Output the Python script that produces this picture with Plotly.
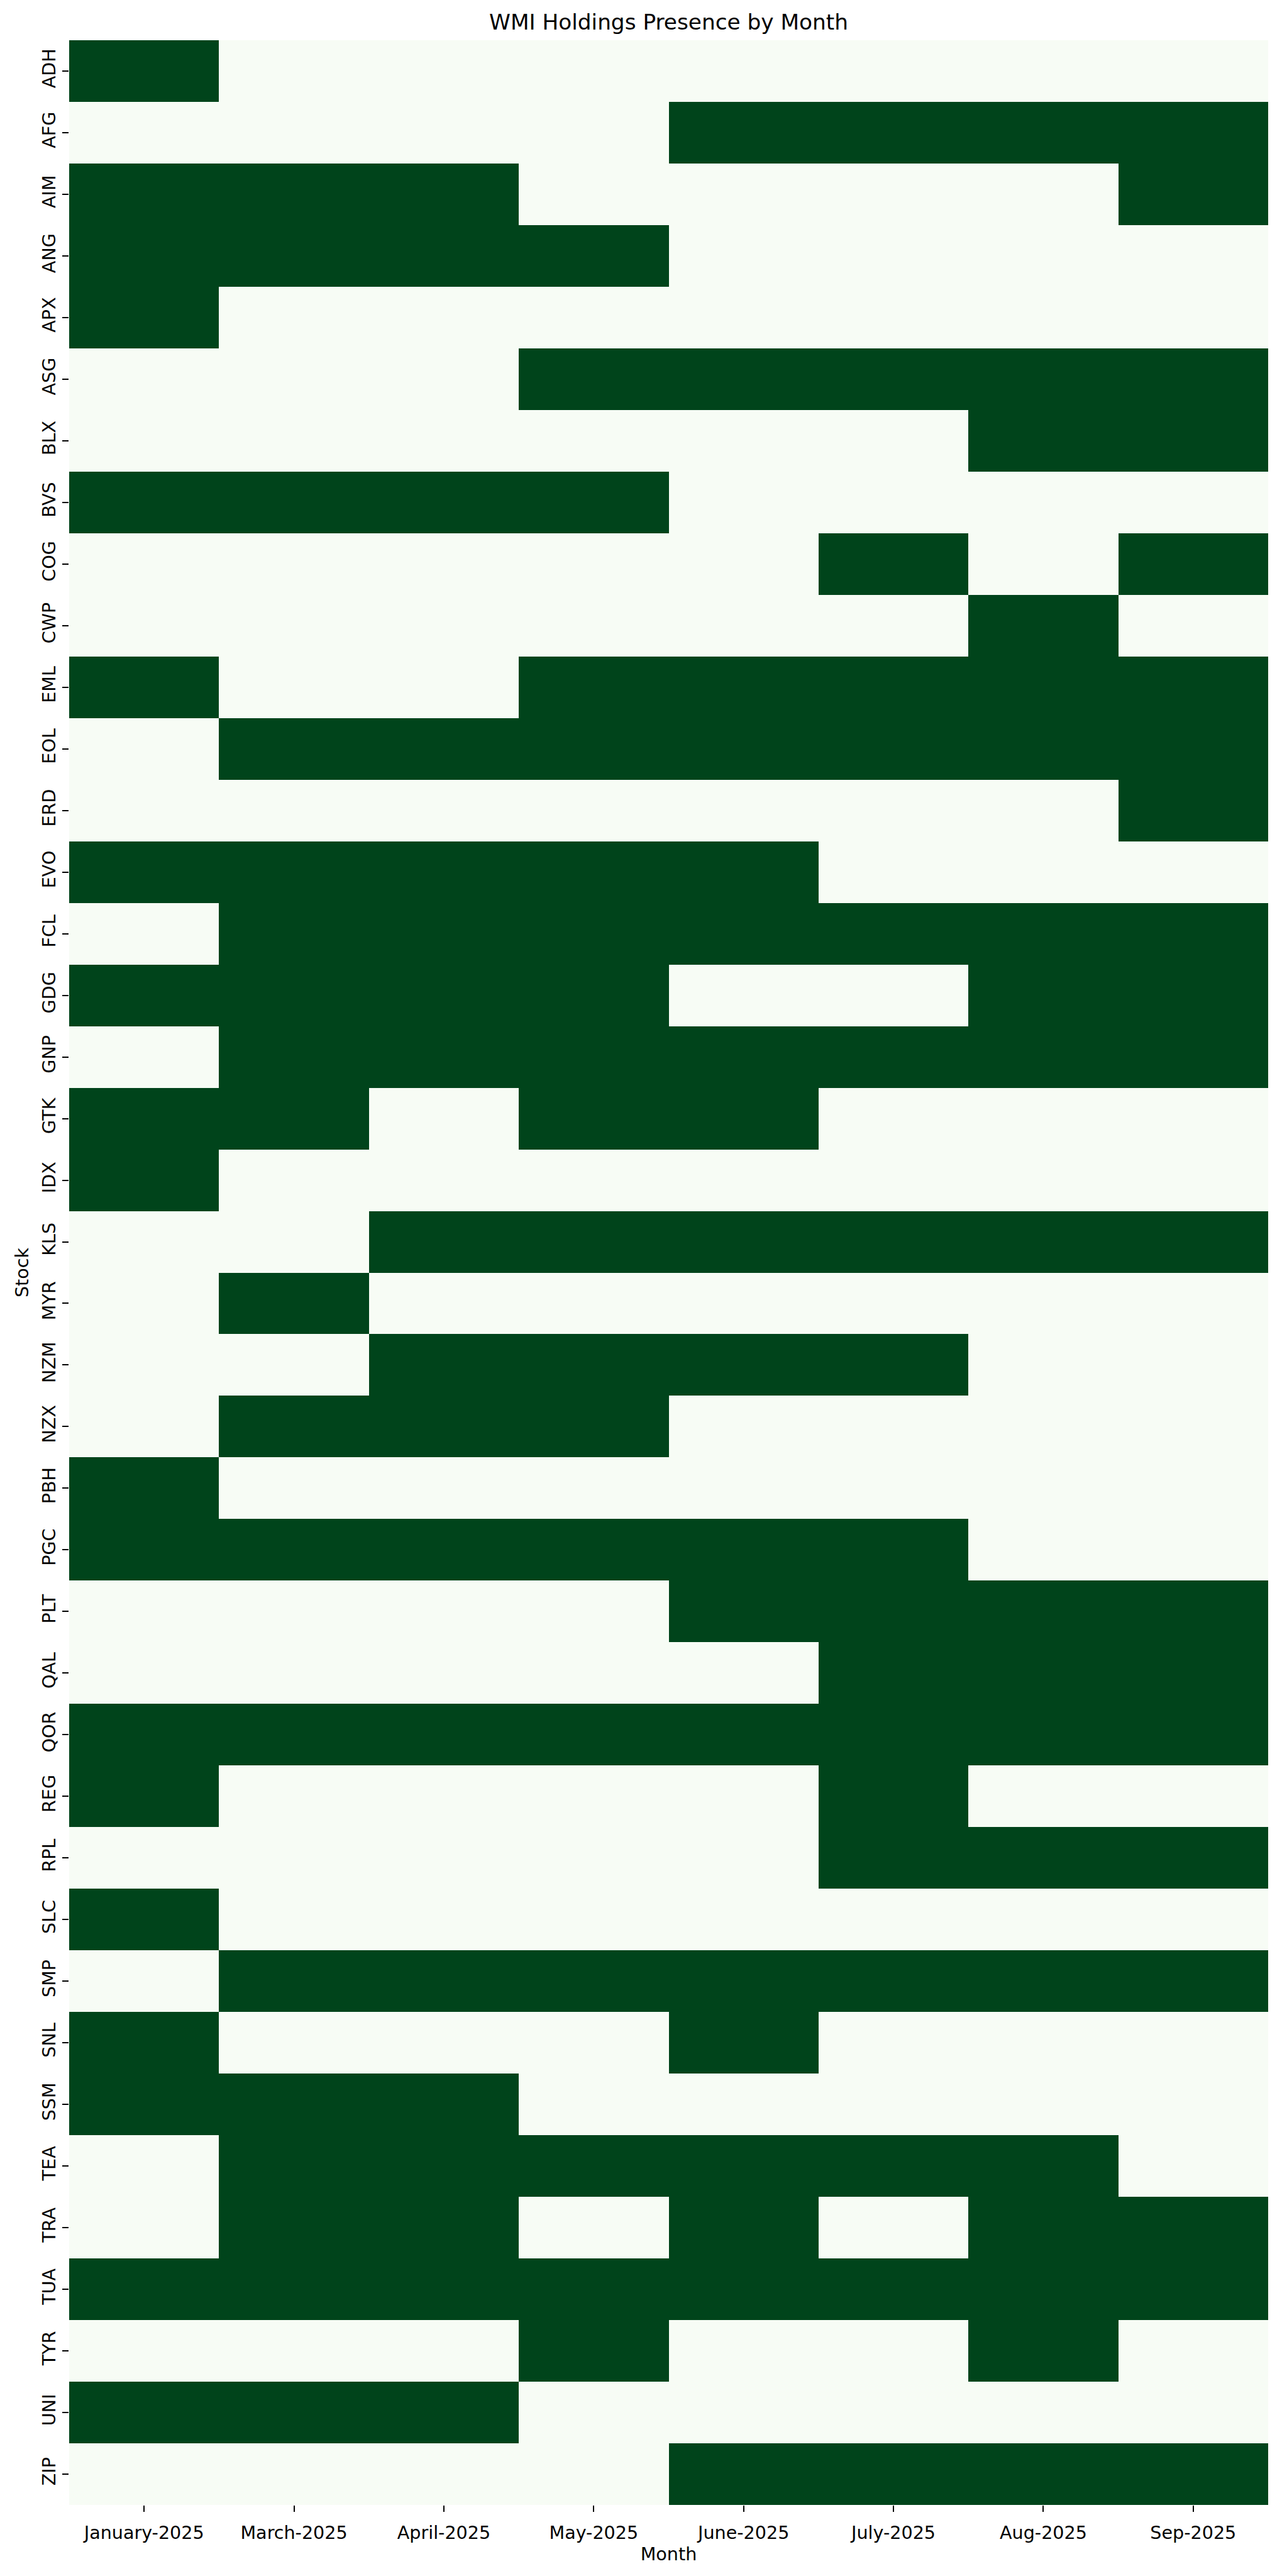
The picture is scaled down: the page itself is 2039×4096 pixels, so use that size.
import plotly.graph_objects as go

months = ["January-2025", "March-2025", "April-2025", "May-2025",
          "June-2025", "July-2025", "Aug-2025", "Sep-2025"]

stocks = ["ADH", "AFG", "AIM", "ANG", "APX", "ASG", "BLX", "BVS", "COG", "CWP",
          "EML", "EOL", "ERD", "EVO", "FCL", "GDG", "GNP", "GTK", "IDX", "KLS",
          "MYR", "NZM", "NZX", "PBH", "PGC", "PLT", "QAL", "QOR", "REG", "RPL",
          "SLC", "SMP", "SNL", "SSM", "TEA", "TRA", "TUA", "TYR", "UNI", "ZIP"]

presence = [
    [1, 0, 0, 0, 0, 0, 0, 0],  # ADH
    [0, 0, 0, 0, 1, 1, 1, 1],  # AFG
    [1, 1, 1, 0, 0, 0, 0, 1],  # AIM
    [1, 1, 1, 1, 0, 0, 0, 0],  # ANG
    [1, 0, 0, 0, 0, 0, 0, 0],  # APX
    [0, 0, 0, 1, 1, 1, 1, 1],  # ASG
    [0, 0, 0, 0, 0, 0, 1, 1],  # BLX
    [1, 1, 1, 1, 0, 0, 0, 0],  # BVS
    [0, 0, 0, 0, 0, 1, 0, 1],  # COG
    [0, 0, 0, 0, 0, 0, 1, 0],  # CWP
    [1, 0, 0, 1, 1, 1, 1, 1],  # EML
    [0, 1, 1, 1, 1, 1, 1, 1],  # EOL
    [0, 0, 0, 0, 0, 0, 0, 1],  # ERD
    [1, 1, 1, 1, 1, 0, 0, 0],  # EVO
    [0, 1, 1, 1, 1, 1, 1, 1],  # FCL
    [1, 1, 1, 1, 0, 0, 1, 1],  # GDG
    [0, 1, 1, 1, 1, 1, 1, 1],  # GNP
    [1, 1, 0, 1, 1, 0, 0, 0],  # GTK
    [1, 0, 0, 0, 0, 0, 0, 0],  # IDX
    [0, 0, 1, 1, 1, 1, 1, 1],  # KLS
    [0, 1, 0, 0, 0, 0, 0, 0],  # MYR
    [0, 0, 1, 1, 1, 1, 0, 0],  # NZM
    [0, 1, 1, 1, 0, 0, 0, 0],  # NZX
    [1, 0, 0, 0, 0, 0, 0, 0],  # PBH
    [1, 1, 1, 1, 1, 1, 0, 0],  # PGC
    [0, 0, 0, 0, 1, 1, 1, 1],  # PLT
    [0, 0, 0, 0, 0, 1, 1, 1],  # QAL
    [1, 1, 1, 1, 1, 1, 1, 1],  # QOR
    [1, 0, 0, 0, 0, 1, 0, 0],  # REG
    [0, 0, 0, 0, 0, 1, 1, 1],  # RPL
    [1, 0, 0, 0, 0, 0, 0, 0],  # SLC
    [0, 1, 1, 1, 1, 1, 1, 1],  # SMP
    [1, 0, 0, 0, 1, 0, 0, 0],  # SNL
    [1, 1, 1, 0, 0, 0, 0, 0],  # SSM
    [0, 1, 1, 1, 1, 1, 1, 0],  # TEA
    [0, 1, 1, 0, 1, 0, 1, 1],  # TRA
    [1, 1, 1, 1, 1, 1, 1, 1],  # TUA
    [0, 0, 0, 1, 0, 0, 1, 0],  # TYR
    [1, 1, 1, 0, 0, 0, 0, 0],  # UNI
    [0, 0, 0, 0, 1, 1, 1, 1],  # ZIP
]

W, H = 2039, 4096
FONT = "DejaVu Sans"
TICK = 28.6

fig = go.Figure(go.Heatmap(
    z=presence, x=months, y=stocks,
    zmin=0, zmax=1,
    colorscale=[[0, "#f7fcf5"], [1, "#00441b"]],
    showscale=False, xgap=0, ygap=0,
))

fig.update_layout(
    width=W, height=H,
    margin=dict(l=110, r=22, t=64, b=113, pad=0),
    paper_bgcolor="white", plot_bgcolor="white",
    font=dict(family=FONT, color="black", size=TICK),
    title=dict(text="WMI Holdings Presence by Month",
               font=dict(family=FONT, size=34.3, color="black"),
               x=1063.5 / W, xanchor="center", xref="container",
               y=1 - 34.5 / H, yanchor="middle", yref="container"),
    xaxis=dict(
        type="category", showgrid=False, zeroline=False, showline=False,
        ticks="outside", ticklen=10, tickwidth=2.3, tickcolor="black",
        ticklabelstandoff=9,
        tickfont=dict(family=FONT, size=TICK, color="black"),
        title=dict(text="Month", font=dict(family=FONT, size=TICK, color="black"),
                   standoff=7),
    ),
    yaxis=dict(
        type="category", autorange="reversed", showgrid=False, zeroline=False,
        showline=False,
        ticks="outside", ticklen=10, tickwidth=2.3, tickcolor="black",
        tickangle=-90,
        tickfont=dict(family=FONT, size=TICK, color="black"),
        title=dict(text="Stock", font=dict(family=FONT, size=TICK, color="black"),
                   standoff=6),
    ),
)

fig.write_html("out.html")
